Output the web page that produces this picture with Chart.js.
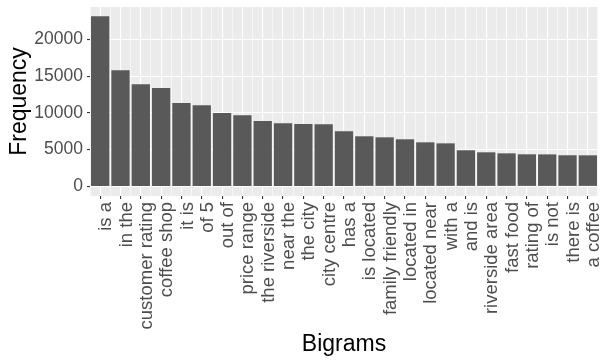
<!DOCTYPE html>
<html>
<head>
<meta charset="utf-8">
<script src="https://cdn.jsdelivr.net/npm/chart.js@4"></script>
<style>
  body { margin: 0; background: #ffffff; }
  #chart { display: block; }
</style>
</head>
<body>
<canvas id="chart" width="605" height="361"></canvas>
<script>
// --- DATA ---
const bigrams = ['is a', 'in the', 'customer rating', 'coffee shop', 'it is', 'of 5', 'out of',
    'price range', 'the riverside', 'near the', 'the city', 'city centre', 'has a', 'is located',
    'family friendly', 'located in', 'located near', 'with a', 'and is', 'riverside area',
    'fast food', 'rating of', 'is not', 'there is', 'a coffee'];
const frequency = [23150, 15800, 13900, 13400, 11350, 11050, 10000, 9680, 8900, 8600, 8480,
    8460, 7500, 6820, 6680, 6410, 6000, 5860, 4920, 4640, 4500, 4370, 4360, 4240, 4230];
const yBreaks = [0, 2500, 5000, 7500, 10000, 12500, 15000, 17500, 20000, 22500];
const yLabels = [0, 5000, 10000, 15000, 20000];

const isMajor = v => yLabels.includes(v);
const FONT = 'Liberation Sans, Arial, sans-serif';

// grey panel behind everything
const panelBg = {
    id: 'panelBg',
    beforeDraw(chart) {
        const { ctx, chartArea: a } = chart;
        ctx.save();
        ctx.fillStyle = '#EBEBEB';
        ctx.fillRect(a.left, a.top, a.right - a.left, a.bottom - a.top);
        ctx.restore();
    }
};

new Chart(document.getElementById('chart'), {
    type: 'bar',
    data: {
        labels: bigrams,
        datasets: [{
            data: frequency,
            backgroundColor: '#595959',
            borderWidth: 0,
            barPercentage: 0.9,
            categoryPercentage: 1.0
        }]
    },
    options: {
        responsive: false,
        animation: false,
        devicePixelRatio: 1,
        layout: { padding: { top: 7, right: 7, left: 0, bottom: 0 } },
        plugins: { legend: { display: false }, tooltip: { enabled: false } },
        scales: {
            x: {
                type: 'category',
                offset: true,
                border: { display: false },
                grid: {
                    offset: false,
                    color: '#ffffff',
                    lineWidth: 1.1,
                    tickColor: '#333333',
                    tickLength: 3,
                    tickWidth: 1.1
                },
                ticks: {
                    autoSkip: false,
                    minRotation: 90,
                    maxRotation: 90,
                    padding: 3,
                    labelOffset: 6,
                    color: '#4D4D4D',
                    font: { family: FONT, size: 18.5 }
                },
                title: {
                    display: true,
                    text: 'Bigrams',
                    color: '#000000',
                    padding: { top: 0, bottom: 3 },
                    font: { family: FONT, size: 23 }
                },
                afterFit(scale) {
                    scale.height = 165;
                    scale.paddingLeft = 0;
                    scale.paddingRight = 0;
                }
            },
            // boundaries between categories get the thin grid lines
            x2: {
                type: 'category',
                labels: bigrams,
                position: 'bottom',
                offset: true,
                border: { display: false },
                grid: { offset: true, color: '#ffffff', lineWidth: 0.55, drawTicks: false },
                ticks: { display: false },
                afterFit(scale) {
                    scale.height = 0;
                    scale.paddingLeft = 0;
                    scale.paddingRight = 0;
                }
            },
            y: {
                min: -1300,
                max: 24400,
                border: { display: false },
                afterBuildTicks(scale) {
                    scale.ticks = yBreaks.map(v => ({ value: v }));
                },
                grid: {
                    color: '#ffffff',
                    lineWidth: ctx => isMajor(ctx.tick.value) ? 1.1 : 0.55,
                    tickColor: ctx => isMajor(ctx.tick.value) ? '#333333' : 'rgba(0,0,0,0)',
                    tickLength: 3,
                    tickWidth: 1.1
                },
                ticks: {
                    padding: 4,
                    color: '#4D4D4D',
                    font: { family: FONT, size: 17.5 },
                    callback: v => isMajor(v) ? String(v) : ''
                },
                title: {
                    display: true,
                    text: 'Frequency',
                    color: '#000000',
                    padding: { top: 6, bottom: 0 },
                    font: { family: FONT, size: 23 }
                },
                afterFit(scale) {
                    scale.width = 90;
                    scale.paddingTop = 0;
                    scale.paddingBottom = 0;
                }
            }
        }
    },
    plugins: [panelBg]
});
</script>
</body>
</html>
